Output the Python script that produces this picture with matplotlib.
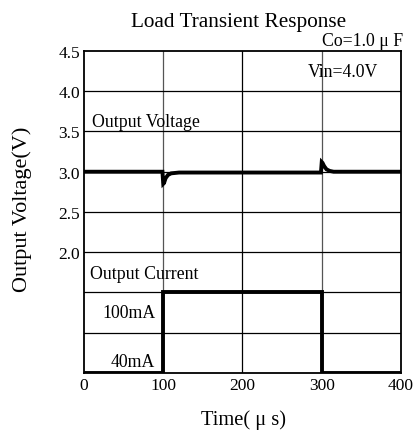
import matplotlib.pyplot as plt

plt.rcParams["font.family"] = ["Liberation Serif", "DejaVu Serif"]

# output voltage trace (us, V)
t_v = [0, 99, 100, 101, 103, 106, 110, 120, 200, 299, 300, 301, 303, 306, 310, 315, 400]
v_out = [3.0, 3.0, 2.85, 2.86, 2.92, 2.96, 2.98, 2.99, 2.99, 2.99, 3.12, 3.11, 3.07, 3.03, 3.01, 3.0, 3.0]

# load current steps (us, mA)
t_i = [0, 100, 100, 300, 300, 400]
i_out = [40, 40, 100, 100, 40, 40]

x_ticks = [0, 100, 200, 300, 400]
y_ticks = [2.0, 2.5, 3.0, 3.5, 4.0, 4.5]


def current_to_axis(ma):
    # 40mA sits on the bottom line (0.5), 100mA on the 1.5 line
    return 0.5 + (ma - 40) / 60.0


fig = plt.figure(figsize=(4.17, 4.31), dpi=100)
ax = fig.add_axes([0.2014, 0.1323, 0.7602, 0.7471])

for x in [100, 200, 300]:
    ax.axvline(x, color="#555555" if x != 200 else "black", lw=0.9, zorder=1)
for y in [1.0, 1.5, 2.0, 2.5, 3.0, 3.5, 4.0]:
    ax.axhline(y, color="black", lw=0.9, zorder=1)

ax.plot(t_v, v_out, color="black", lw=2.8, zorder=3, solid_joinstyle="miter")
ax.plot(t_i, [current_to_axis(v) for v in i_out], color="black", lw=2.8,
        zorder=3, solid_joinstyle="miter")

ax.set_xlim(0, 400)
ax.set_ylim(0.5, 4.5)
ax.set_xticks(x_ticks)
ax.set_xticklabels([str(x) for x in x_ticks])
ax.set_yticks(y_ticks)
ax.set_yticklabels([f"{y:.1f}" for y in y_ticks])
ax.tick_params(length=0, labelsize=12.5, pad=3)
for s in ax.spines.values():
    s.set_linewidth(1.3)

ax.text(10, 3.62, "Output Voltage", fontsize=12.8, va="center", ha="left")
ax.text(7, 1.74, "Output Current", fontsize=12.8, va="center", ha="left")
ax.text(90, 1.25, "100mA", fontsize=12.8, va="center", ha="right")
ax.text(90, 0.64, "40mA", fontsize=12.8, va="center", ha="right")
ax.text(371, 4.24, "Vin=4.0V", fontsize=12.8, va="center", ha="right")
ax.text(403, 4.53, "Co=1.0 \u03bc F", fontsize=12.8, va="bottom", ha="right")

fig.text(0.573, 0.948, "Load Transient Response", fontsize=15.3, ha="center", va="center")
fig.text(0.053, 0.515, "Output Voltage(V)", fontsize=16, ha="center", va="center",
         rotation=90)
fig.text(0.583, 0.025, "Time( \u03bc s)", fontsize=14.8, ha="center", va="center")

fig.savefig("out.png", dpi=100)
